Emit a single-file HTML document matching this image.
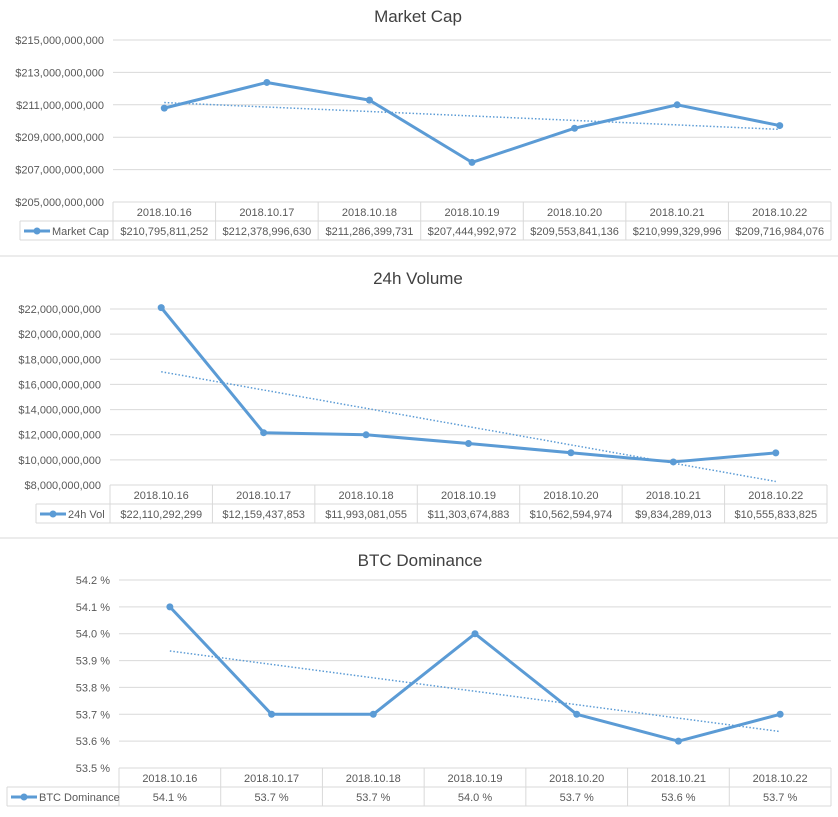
<!DOCTYPE html>
<html><head><meta charset="utf-8"><style>
html,body{margin:0;padding:0;background:#fff;}
svg{display:block;font-family:"Liberation Sans",sans-serif;}
</style></head><body>
<svg id="s" width="838" height="817"></svg>
<script>
const categories=["2018.10.16","2018.10.17","2018.10.18","2018.10.19","2018.10.20","2018.10.21","2018.10.22"];
const marketCap=[210795811252,212378996630,211286399731,207444992972,209553841136,210999329996,209716984076];
const marketCapLabels=["$210,795,811,252","$212,378,996,630","$211,286,399,731","$207,444,992,972","$209,553,841,136","$210,999,329,996","$209,716,984,076"];
const volume=[22110292299,12159437853,11993081055,11303674883,10562594974,9834289013,10555833825];
const volumeLabels=["$22,110,292,299","$12,159,437,853","$11,993,081,055","$11,303,674,883","$10,562,594,974","$9,834,289,013","$10,555,833,825"];
const dominance=[54.1,53.7,53.7,54.0,53.7,53.6,53.7];
const dominanceLabels=["54.1 %","53.7 %","53.7 %","54.0 %","53.7 %","53.6 %","53.7 %"];
const capTicks=[205e9,207e9,209e9,211e9,213e9,215e9];
const capTickLabels=["$205,000,000,000","$207,000,000,000","$209,000,000,000","$211,000,000,000","$213,000,000,000","$215,000,000,000"];
const volTicks=[8e9,10e9,12e9,14e9,16e9,18e9,20e9,22e9];
const volTickLabels=["$8,000,000,000","$10,000,000,000","$12,000,000,000","$14,000,000,000","$16,000,000,000","$18,000,000,000","$20,000,000,000","$22,000,000,000"];
const domTicks=[53.5,53.6,53.7,53.8,53.9,54.0,54.1,54.2];
const domTickLabels=["53.5 %","53.6 %","53.7 %","53.8 %","53.9 %","54.0 %","54.1 %","54.2 %"];

const NS="http://www.w3.org/2000/svg";
const svg=document.getElementById('s');
function mk(tag,attrs,parent,text){const e=document.createElementNS(NS,tag);for(const k in attrs)e.setAttribute(k,attrs[k]);if(text!==undefined)e.textContent=text;(parent||svg).appendChild(e);return e;}

function chart(cfg){
  const g=mk('g',{});
  
  
  const t=mk('text',{x:cfg.titleX,y:cfg.titleY,'font-size':17,fill:'#404040','text-anchor':'middle'},g,cfg.title);
  
  
  const yv=v=>cfg.bottom-(v-cfg.min)/(cfg.max-cfg.min)*(cfg.bottom-cfg.top);
  const n=categories.length, cw=(cfg.right-cfg.left)/n;
  const xc=i=>cfg.left+cw*(i+0.5);
  cfg.ticks.forEach((v,i)=>{
    const y=yv(v);
    if(i>0){const l=mk('line',{x1:cfg.left,x2:cfg.right,y1:y,y2:y,stroke:'#d9d9d9','stroke-width':1},g);
      }
    const tl=mk('text',{x:cfg.left-9,y:y+4,'font-size':11,fill:'#595959','text-anchor':'end'},g,cfg.tickLabels[i]);
    
  });
  const rh=19,b=cfg.bottom;
  const tg=mk('g',{stroke:'#d9d9d9','stroke-width':1,fill:'none'},g);
  
  mk('line',{x1:cfg.left,x2:cfg.right,y1:b,y2:b},tg);
  mk('line',{x1:cfg.labelLeft,x2:cfg.right,y1:b+rh,y2:b+rh},tg);
  mk('line',{x1:cfg.labelLeft,x2:cfg.right,y1:b+2*rh,y2:b+2*rh},tg);
  mk('line',{x1:cfg.labelLeft,x2:cfg.labelLeft,y1:b+rh,y2:b+2*rh},tg);
  for(let i=0;i<=n;i++){const x=cfg.left+cw*i;mk('line',{x1:x,x2:x,y1:b,y2:b+2*rh},tg);}
  categories.forEach((c,i)=>{
    const a=mk('text',{x:xc(i),y:b+14,'font-size':11,fill:'#595959','text-anchor':'middle'},g,c);
    
    const v=mk('text',{x:xc(i),y:b+rh+14,'font-size':11,fill:'#595959','text-anchor':'middle'},g,cfg.labels[i]);
    
  });
  const lk=mk('line',{x1:cfg.labelLeft+4,x2:cfg.labelLeft+30,y1:b+rh+10,y2:b+rh+10,stroke:'#5b9bd5','stroke-width':3},g);
  
  mk('circle',{cx:cfg.labelLeft+17,cy:b+rh+10,r:3.5,fill:'#5b9bd5'},g);
  const ln=mk('text',{x:cfg.labelLeft+32,y:b+rh+14,'font-size':11,fill:'#595959'},g,cfg.series);
  
  const d=cfg.data;let sx=0,sy=0,sxy=0,sxx=0;
  d.forEach((v,i)=>{sx+=i;sy+=v;sxy+=i*v;sxx+=i*i;});
  const m=(n*sxy-sx*sy)/(n*sxx-sx*sx),k=(sy-m*sx)/n;
  const tr=mk('line',{x1:xc(0),y1:yv(k),x2:xc(n-1),y2:yv(k+m*(n-1)),stroke:'#5b9bd5','stroke-width':1.5,'stroke-dasharray':'1.5 2'},g);
  
  const p=mk('polyline',{points:d.map((v,i)=>xc(i)+','+yv(v)).join(' '),fill:'none',stroke:'#5b9bd5','stroke-width':3,'stroke-linejoin':'round'},g);
  
  d.forEach((v,i)=>{const c=mk('circle',{cx:xc(i),cy:yv(v),r:3.5,fill:'#5b9bd5'},g);
    });
}
chart({name:'market-cap-chart',title:'Market Cap',series:'Market Cap',titleX:418,titleY:22,left:113,right:831,top:40,bottom:202,min:205e9,max:215e9,labelLeft:20,ticks:capTicks,tickLabels:capTickLabels,data:marketCap,labels:marketCapLabels});
chart({name:'volume-chart',title:'24h Volume',series:'24h Vol',titleX:418,titleY:284,left:110,right:827,top:309,bottom:485,min:8e9,max:22e9,labelLeft:36,ticks:volTicks,tickLabels:volTickLabels,data:volume,labels:volumeLabels});
chart({name:'dominance-chart',title:'BTC Dominance',series:'BTC Dominance',titleX:420,titleY:566,left:119,right:831,top:580,bottom:768,min:53.5,max:54.2,labelLeft:7,ticks:domTicks,tickLabels:domTickLabels,data:dominance,labels:dominanceLabels});
[256,538].forEach(y=>{const l=mk('line',{x1:0,x2:838,y1:y,y2:y,stroke:'#d9d9d9','stroke-width':1});
  });
</script>
</body></html>
